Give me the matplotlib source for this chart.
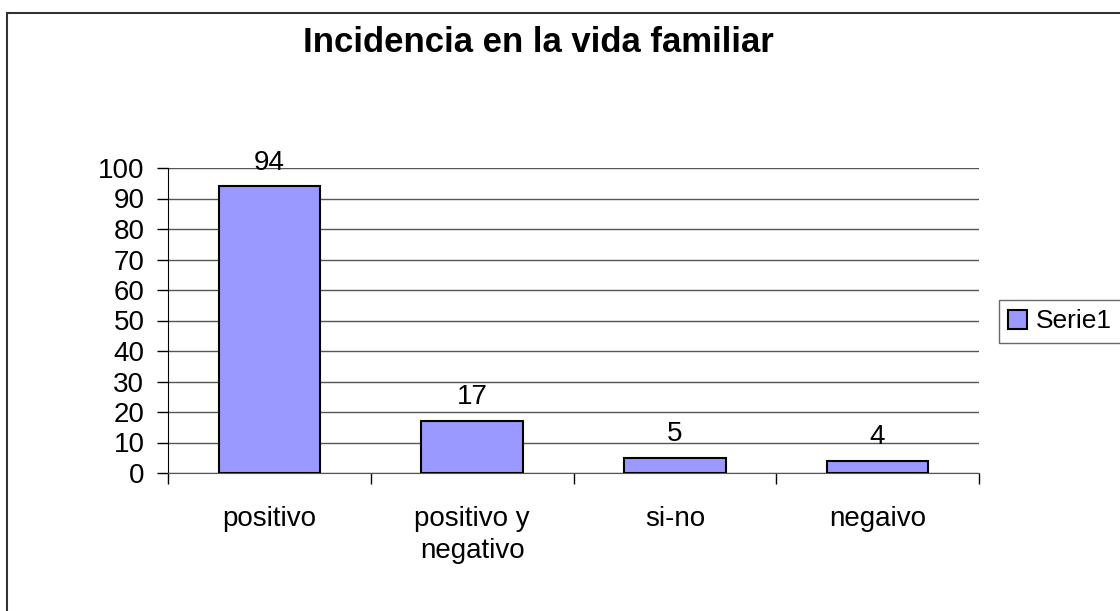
import matplotlib
matplotlib.use("Agg")
import matplotlib.pyplot as plt
from matplotlib.patches import Rectangle, Patch
import numpy as np

categories = ["positivo", "positivo y\nnegativo", "si-no", "negaivo"]
values = [94, 17, 5, 4]
series_name = "Serie1"
title = "Incidencia en la vida familiar"

plt.rcParams['font.family'] = ['Liberation Sans', 'DejaVu Sans']

fig = plt.figure(figsize=(11.2, 6.11), dpi=100)
ax = fig.add_axes([168/1120, 138/611, (979-168)/1120, (473-168)/611])

x = np.arange(len(categories))
bars = ax.bar(x, values, width=0.5, color="#9999ff", edgecolor="black", linewidth=1.5, zorder=3)

for xi, v in zip(x, values):
    ax.text(xi, v + 5.5, str(v), ha="center", va="baseline", fontsize=20)

ax.set_xlim(-0.5, 3.5)
ax.set_ylim(0, 100)
ax.set_yticks(np.arange(0, 101, 10))
ax.yaxis.grid(True, color="#555555", linewidth=1)
ax.set_axisbelow(True)

# category labels between boundary ticks
ax.set_xticks(np.arange(-0.5, 3.6, 1))
ax.set_xticklabels([])
ax.set_xticks(x, minor=True)
ax.set_xticklabels(categories, minor=True, fontsize=20, linespacing=1.27, va="top")
ax.tick_params(axis="x", which="minor", length=0, pad=24)
ax.tick_params(axis="x", which="major", length=8, width=1, color="black")
ax.tick_params(axis="y", length=8, width=1, labelsize=20, pad=9)

for s in ["top", "right"]:
    ax.spines[s].set_visible(False)
ax.spines["left"].set_color("black")
ax.spines["bottom"].set_color("#555555")

fig.text(538/1120, 1 - 42/611, title, ha="center", va="center", fontsize=25, fontweight="bold")

leg = fig.legend(handles=[Patch(facecolor="#9999ff", edgecolor="black", linewidth=1.5, label=series_name)],
                 loc="center left", bbox_to_anchor=(999/1120, 1 - 321.5/611), fontsize=19,
                 frameon=True, fancybox=False, edgecolor="#444444", handlelength=0.7, handleheight=0.7,
                 handletextpad=0.35, borderpad=0.35, borderaxespad=0)
leg.get_frame().set_linewidth(1)

fig.patches.append(Rectangle((7/1120, -0.1), 2, 1 - 13/611 + 0.1, transform=fig.transFigure,
                             fill=False, edgecolor="#333333", linewidth=1.5))

fig.savefig("out.png", dpi=100)
